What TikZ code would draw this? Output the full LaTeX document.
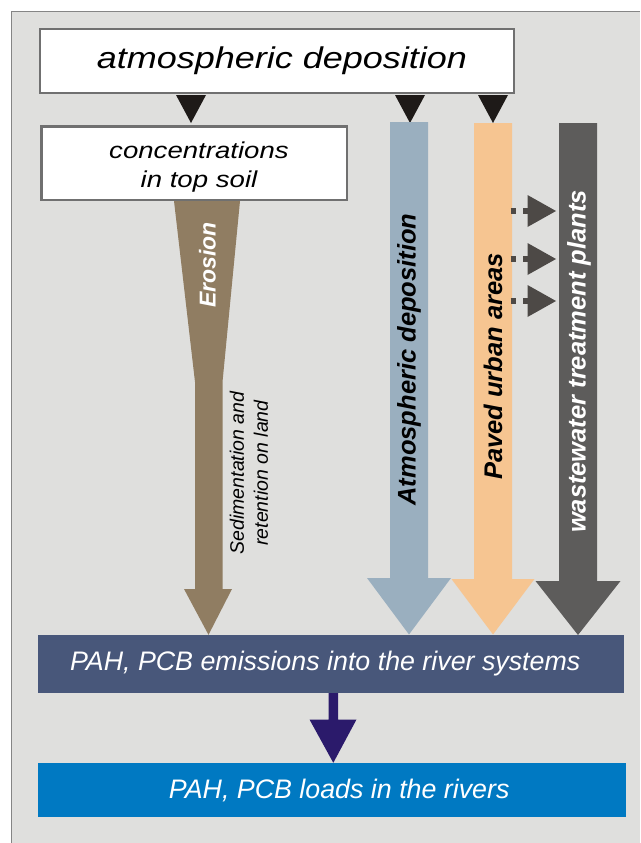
\documentclass[tikz,border=0pt]{standalone}
\usepackage{fontspec}
\setmainfont{Liberation Sans}
\newfontfamily\widesans[FakeStretch=1.2]{Liberation Sans}

\definecolor{panel}{HTML}{DFDFDD}
\definecolor{panelline}{HTML}{858585}
\definecolor{boxline}{HTML}{707070}
\definecolor{tipblack}{HTML}{1E1A18}
\definecolor{erosion}{HTML}{907D62}
\definecolor{atmblue}{HTML}{9AAFBF}
\definecolor{paved}{HTML}{F6C591}
\definecolor{wwtp}{HTML}{5D5C5B}
\definecolor{dotarrow}{HTML}{4D4946}
\definecolor{emission}{HTML}{48577A}
\definecolor{loadarrow}{HTML}{2B1A6B}
\definecolor{loads}{HTML}{0079C2}

% filled block arrow pointing down:
% #1 colour, #2 centre x, #3 half shaft width, #4 top y,
% #5 y where the head starts, #6 half head width, #7 tip y
\newcommand\flowarrow[7]{%
  \fill[#1] ({#2-#3},#4) -- ({#2+#3},#4) -- ({#2+#3},#5) -- ({#2+#6},#5)
    -- (#2,#7) -- ({#2-#6},#5) -- ({#2-#3},#5) -- cycle;}

% small black wedge below the top box
\newcommand\depwedge[2]{%
  \fill[tipblack] ({#1-15},#2) -- ({#1+15},#2) -- (#1,123) -- cycle;}

% dotted arrow from the paved-area column to the treatment-plant column
\newcommand\dotarrow[1]{%
  \draw[dotarrow, line width=5.5pt, dash pattern=on 5.5pt off 7pt] (510.5,#1) -- (528,#1);
  \fill[dotarrow] (527.5,{#1-16}) -- (556,#1) -- (527.5,{#1+16}) -- cycle;}

\begin{document}
\begin{tikzpicture}[x=1pt,y=-1pt,
  box/.style={draw=boxline, line width=2.5pt, fill=white, inner sep=0pt, align=center},
  band/.style={inner sep=0pt, text=white},
  armlabel/.style={rotate=90, inner sep=0pt, font=\fontsize{25.5}{30}\selectfont\bfseries\itshape},
  ]
\useasboundingbox (0,0) rectangle (640,843);

% background panel
\fill[panel] (11,12) rectangle (640,843);
\draw[panelline, line width=1pt] (11,843) -- (11,12) -- (640,12);

% boxes
\node[box, minimum width=474, minimum height=64,
      font={\fontsize{30}{36}\selectfont\widesans\itshape}] (atm) at (277,61)
  {\hspace*{10pt}atmospheric deposition};
\node[box, minimum width=305.5, minimum height=73.5] (soil) at (194,163) {};
\node[inner sep=0pt, align=center,
      font={\fontsize{23}{29}\selectfont\widesans\itshape}] (soiltext) at (199,167)
  {concentrations\\in top soil};
\node[band, fill=emission, minimum width=586.5, minimum height=58,
      font={\fontsize{26.8}{30}\selectfont\itshape}] (em) at (331.2,664)
  {\hspace*{-12pt}PAH, PCB emissions into the river systems};
\node[band, fill=loads, minimum width=588.5, minimum height=54,
      font={\fontsize{26.8}{30}\selectfont\itshape}] (load) at (332.2,790)
  {\hspace*{14pt}PAH, PCB loads in the rivers};

% wedges from the top box
\depwedge{191}{95}
\depwedge{410}{95}
\depwedge{493}{95}

% erosion funnel
\fill[erosion] (soil.south -| 174,0) -- (soil.south -| 240,0) -- (222.5,382) -- (222.5,589)
  -- (232,589) -- (em.north -| 208.5,0) -- (184,589) -- (195,589) -- (195,382) -- cycle;
\node[rotate=90, inner sep=0pt, text=white, font=\fontsize{23}{28}\selectfont\bfseries\itshape]
  (ero) at (207.5,265) {Erosion};
\node[rotate=90, inner sep=0pt, align=center, font=\fontsize{19.5}{24}\selectfont\itshape]
  (sed) at (249,473) {Sedimentation and\\retention on land};

% the three source columns
\flowarrow{atmblue}{409}{19}{122}{578}{42}{634.5}
\flowarrow{paved}{493}{19}{123}{579}{41.5}{634.5}
\flowarrow{wwtp}{578}{19}{123}{581}{42.5}{635}

\node[armlabel] (lab1) at (409,359.5) {Atmospheric deposition};
\node[armlabel] (lab2) at (493,366.5) {Paved urban areas};
\node[armlabel, text=white] (lab3) at (579,361.5) {wastewater treatment plants};

% transfers from paved areas to treatment plants
\dotarrow{211}
\dotarrow{259}
\dotarrow{301}

% emissions to river loads
\fill[loadarrow] (328.5,693) -- (338,693) -- (338,719.5) -- (356.5,719.5)
  -- (load.north -| 333.3,0) -- (309.5,719.5) -- (328.5,719.5) -- cycle;
\end{tikzpicture}
\end{document}
